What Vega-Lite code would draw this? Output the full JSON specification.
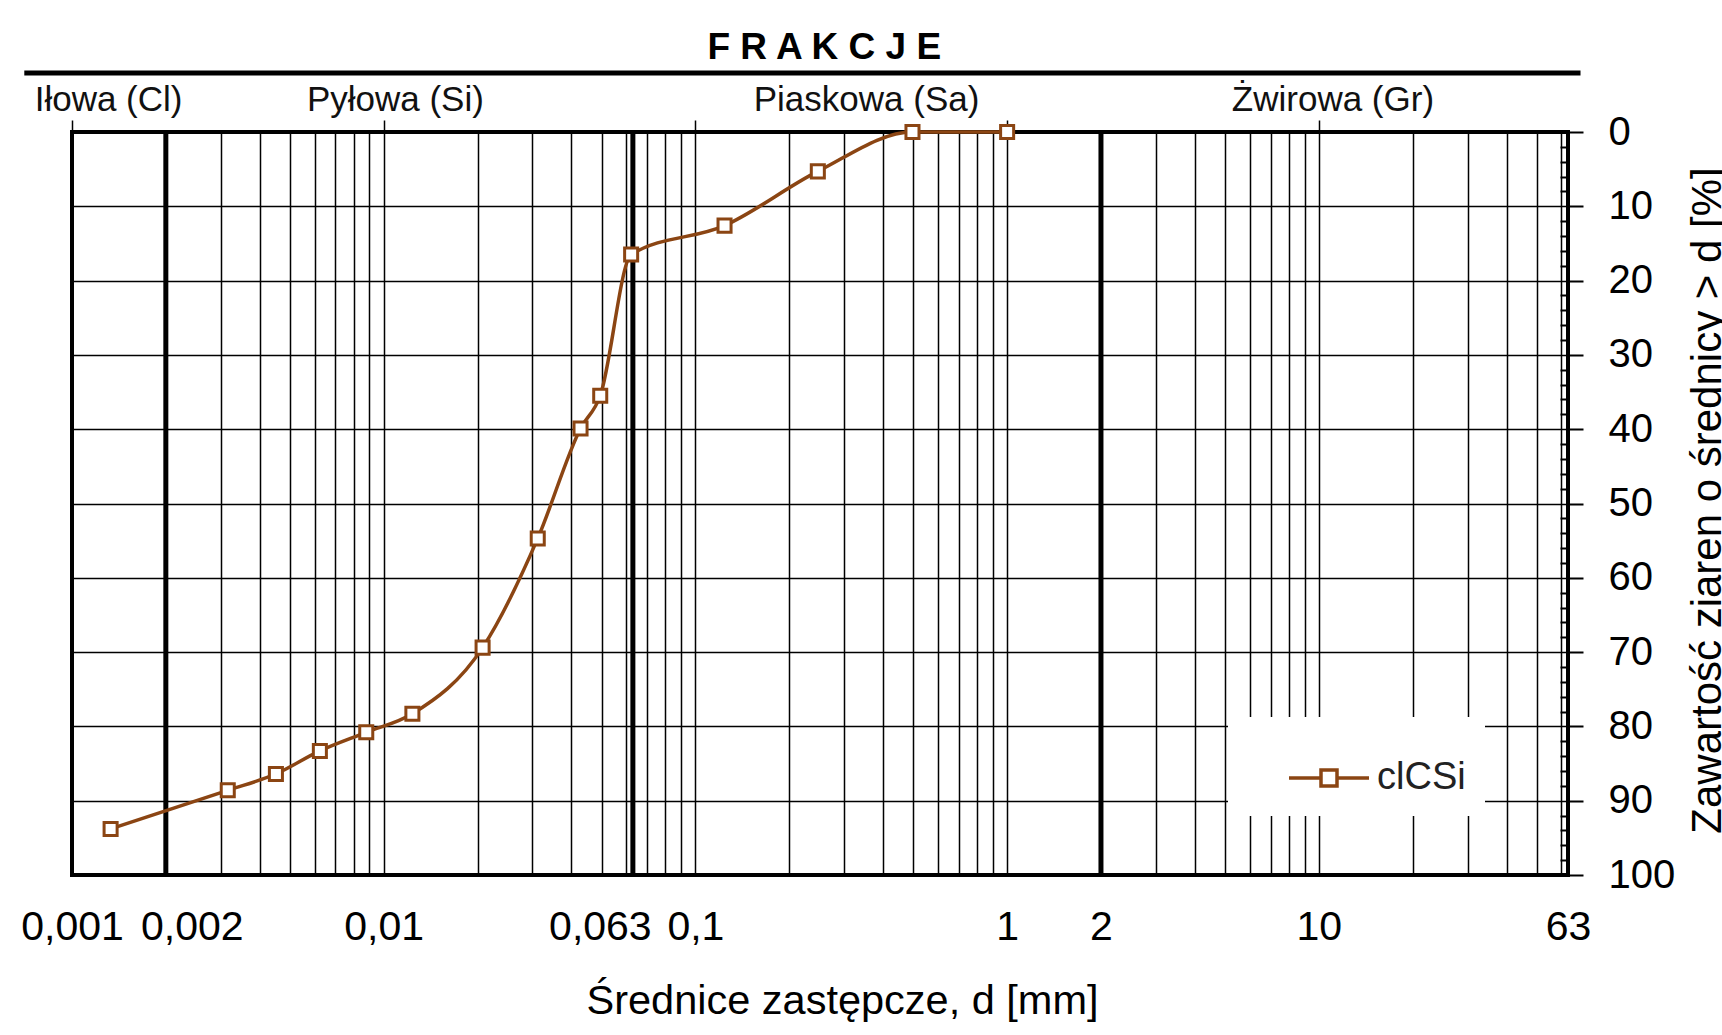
{
  "$schema": "https://vega.github.io/schema/vega-lite/v6.json",
  "width": 1496,
  "height": 743,
  "autosize": {"type": "none"},
  "padding": {"left": 72, "top": 132, "right": 154, "bottom": 160},
  "background": "white",
  "config": {
    "view": {"stroke": "black", "strokeWidth": 4},
    "font": "Liberation Sans"
  },
  "datasets": {
    "curve": [
      {"d": 0.00133, "p": 93.8, "series": "clCSi"},
      {"d": 0.00316, "p": 88.6, "series": "clCSi"},
      {"d": 0.00451, "p": 86.4, "series": "clCSi"},
      {"d": 0.00624, "p": 83.3, "series": "clCSi"},
      {"d": 0.00879, "p": 80.8, "series": "clCSi"},
      {"d": 0.01236, "p": 78.3, "series": "clCSi"},
      {"d": 0.02076, "p": 69.4, "series": "clCSi"},
      {"d": 0.0312, "p": 54.7, "series": "clCSi"},
      {"d": 0.0428, "p": 39.9, "series": "clCSi"},
      {"d": 0.0495, "p": 35.5, "series": "clCSi"},
      {"d": 0.0622, "p": 16.5, "series": "clCSi"},
      {"d": 0.124, "p": 12.6, "series": "clCSi"},
      {"d": 0.247, "p": 5.3, "series": "clCSi"},
      {"d": 0.497, "p": 0, "series": "clCSi"},
      {"d": 1.0, "p": 0, "series": "clCSi"}
    ],
    "boundaries": [{"d": 0.002}, {"d": 0.063}, {"d": 2}],
    "fractions": [
      {"d": 0.00131, "p": -4.3, "name": "Iłowa (Cl)"},
      {"d": 0.0109, "p": -4.3, "name": "Pyłowa (Si)"},
      {"d": 0.354, "p": -4.3, "name": "Piaskowa (Sa)"},
      {"d": 11.1, "p": -4.3, "name": "Żwirowa (Gr)"}
    ],
    "header": [{"d": 0.259, "p": -11.3, "name": "F R A K C J E"}],
    "headerline": [{"a": 0.000703, "b": 69.1, "p": -7.94}]
  },
  "layer": [
    {
      "data": {"name": "boundaries"},
      "mark": {"type": "rule", "strokeWidth": 5, "color": "black"},
      "encoding": {
        "x": {"field": "d", "type": "quantitative", "scale": {"type": "log", "domain": [0.001, 63], "nice": false}, "axis": null}
      }
    },
    {
      "data": {"name": "curve"},
      "mark": {"type": "line", "interpolate": "monotone", "strokeWidth": 3.5},
      "encoding": {
        "x": {
          "field": "d", "type": "quantitative",
          "scale": {"type": "log", "domain": [0.001, 63], "nice": false},
          "axis": {
            "orient": "bottom",
            "values": [0.001, 0.002, 0.003, 0.004, 0.005, 0.006, 0.007, 0.008, 0.009, 0.01, 0.02, 0.03, 0.04, 0.05, 0.06, 0.063, 0.07, 0.08, 0.09, 0.1, 0.2, 0.3, 0.4, 0.5, 0.6, 0.7, 0.8, 0.9, 1, 2, 3, 4, 5, 6, 7, 8, 9, 10, 20, 30, 40, 50, 60, 63],
            "grid": true, "gridColor": "black", "gridWidth": 1.5, "gridOpacity": 1,
            "ticks": false, "domain": false,
            "labelExpr": "indexof([0.001, 0.002, 0.01, 0.063, 0.1, 1, 2, 10, 63], datum.value) >= 0 ? replace(toString(datum.value), '.', ',') : ''",
            "labelFontSize": 41, "labelColor": "black", "labelPadding": 32,
            "labelOverlap": false, "labelFlush": false, "labelBound": false,
            "labelOffset": {"condition": [{"test": "datum.value == 0.002", "value": 26}, {"test": "datum.value == 0.063", "value": -33}], "value": 0},
            "title": "Średnice zastępcze, d [mm]",
            "titleFontSize": 41.5, "titleFontWeight": "normal", "titleColor": "black",
            "titleX": 770, "titleY": 138, "titleBaseline": "alphabetic", "titleAlign": "center"
          }
        },
        "y": {
          "field": "p", "type": "quantitative",
          "scale": {"domain": [0, 100], "reverse": true, "nice": false},
          "axis": {
            "orient": "right",
            "values": [0, 2, 4, 6, 8, 10, 12, 14, 16, 18, 20, 22, 24, 26, 28, 30, 32, 34, 36, 38, 40, 42, 44, 46, 48, 50, 52, 54, 56, 58, 60, 62, 64, 66, 68, 70, 72, 74, 76, 78, 80, 82, 84, 86, 88, 90, 92, 94, 96, 98, 100],
            "grid": true, "gridColor": "black", "gridWidth": 1.5,
            "gridOpacity": {"condition": {"test": "datum.value % 10 != 0", "value": 0}, "value": 1},
            "domain": false, "ticks": true, "tickColor": "black", "tickWidth": 2,
            "tickSize": {"condition": {"test": "datum.value % 10 != 0", "value": -8}, "value": 15},
            "labelExpr": "datum.value % 10 == 0 ? datum.label : ''",
            "labelFontSize": 40, "labelColor": "black", "labelPadding": 25, "labelOverlap": false, "labelBound": false, "labelFlush": false,
            "title": "Zawartość ziaren o średnicy > d [%]",
            "titleFontSize": 42, "titleFontWeight": "normal", "titleColor": "black",
            "titleAngle": 270, "titleX": 152, "titleY": 368, "titleBaseline": "alphabetic", "titleAlign": "center"
          }
        },
        "color": {
          "field": "series", "type": "nominal",
          "scale": {"range": ["#8B4513"]},
          "legend": {
            "orient": "none", "legendX": 1156, "legendY": 585,
            "title": null, "fillColor": "white", "strokeColor": null, "padding": 19,
            "symbolType": "M-1,0H-0.2M0.2,0H1M-0.2,-0.2H0.2V0.2H-0.2Z",
            "symbolSize": 6400, "symbolStrokeWidth": 3.5, "symbolOffset": 40,
            "labelFontSize": 38, "labelColor": "#222222", "labelOffset": 6, "labelLimit": 400,
            "labelExpr": "datum.label + '\u00a0\u00a0\u00a0\u00a0\u00a0\u00a0'",
            "encode": {"symbols": {"update": {"fill": {"value": "white"}, "stroke": {"value": "#8B4513"}, "strokeWidth": {"value": 3.5}}}}
          }
        }
      }
    },
    {
      "data": {"name": "curve"},
      "mark": {"type": "point", "shape": "square", "filled": true, "fill": "white", "stroke": "#8B4513", "strokeWidth": 3, "size": 170, "opacity": 1},
      "encoding": {
        "x": {"field": "d", "type": "quantitative", "scale": {"type": "log", "domain": [0.001, 63], "nice": false}, "axis": null},
        "y": {"field": "p", "type": "quantitative", "scale": {"domain": [0, 100], "reverse": true, "nice": false}, "axis": null}
      }
    },
    {
      "data": {"name": "fractions"},
      "mark": {"type": "text", "fontSize": 35, "color": "#111111", "align": "center", "baseline": "middle"},
      "encoding": {
        "x": {"field": "d", "type": "quantitative", "scale": {"type": "log", "domain": [0.001, 63], "nice": false},
          "axis": {"orient": "top", "values": [0.001, 0.01, 0.1, 1, 10], "grid": false, "domain": false, "labels": false, "ticks": true, "tickSize": 12, "tickColor": "black", "tickWidth": 1.5, "title": null}},
        "y": {"field": "p", "type": "quantitative", "scale": {"domain": [0, 100], "reverse": true, "nice": false}, "axis": null},
        "text": {"field": "name"}
      }
    },
    {
      "data": {"name": "header"},
      "mark": {"type": "text", "fontSize": 37, "fontWeight": "bold", "color": "black", "align": "center", "baseline": "middle"},
      "encoding": {
        "x": {"field": "d", "type": "quantitative", "scale": {"type": "log", "domain": [0.001, 63], "nice": false}, "axis": null},
        "y": {"field": "p", "type": "quantitative", "scale": {"domain": [0, 100], "reverse": true, "nice": false}, "axis": null},
        "text": {"field": "name"}
      }
    },
    {
      "data": {"name": "headerline"},
      "mark": {"type": "rule", "strokeWidth": 5, "color": "black"},
      "encoding": {
        "x": {"field": "a", "type": "quantitative", "scale": {"type": "log", "domain": [0.001, 63], "nice": false}, "axis": null},
        "x2": {"field": "b"},
        "y": {"field": "p", "type": "quantitative", "scale": {"domain": [0, 100], "reverse": true, "nice": false}, "axis": null}
      }
    }
  ],
  "resolve": {"axis": {"x": "independent", "y": "independent"}}
}
